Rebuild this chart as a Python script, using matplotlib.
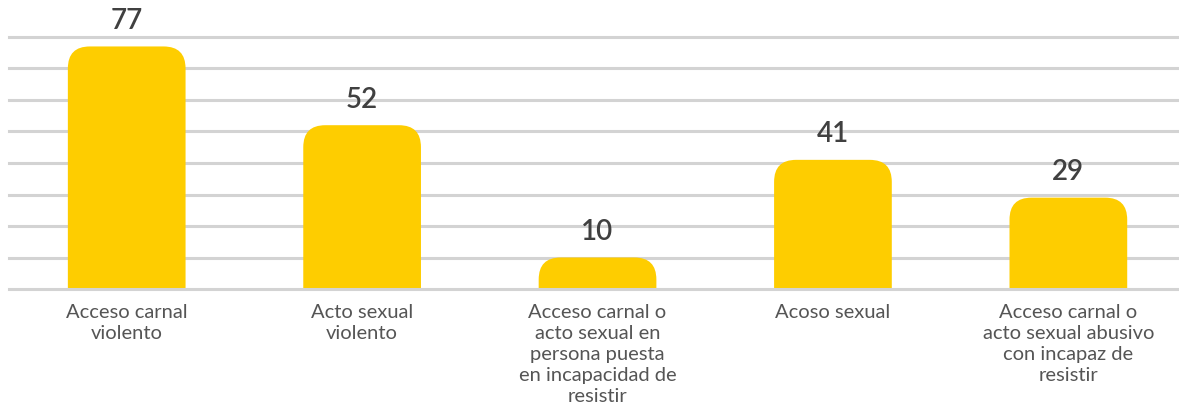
import matplotlib.pyplot as plt
from matplotlib.patches import FancyBboxPatch

categories = [
    "Acceso carnal\nviolento",
    "Acto sexual\nviolento",
    "Acceso carnal o\nacto sexual en\npersona puesta\nen incapacidad de\nresistir",
    "Acoso sexual",
    "Acceso carnal o\nacto sexual abusivo\ncon incapaz de\nresistir",
]
values = [77, 52, 10, 41, 29]
y_ticks = [0, 10, 20, 30, 40, 50, 60, 70, 80]

BAR_COLOR = "#FECD00"
GRID_COLOR = "#D3D3D3"

plt.rcParams["font.family"] = ["Lato", "DejaVu Sans"]

fig = plt.figure(figsize=(11.79, 4.04), dpi=100)
ax = fig.add_axes([9 / 1179, 1 - 289 / 404, 1 - 9 / 1179, (289 - 37) / 404])

x = list(range(len(values)))
bars = ax.bar(x, values, width=0.5, color=BAR_COLOR, zorder=3)

ax.set_xlim(-0.5, 4.47)
ax.set_ylim(0, 80)

# rounded tops: radius ~22px -> data units on each axis;
# box starts below 0 so bottom corners are clipped away
rx = 22 / 235.5
ry = 22 / 3.15
for bar in bars:
    bx, bw, bh = bar.get_x(), bar.get_width(), bar.get_height()
    bar.set_visible(False)
    ax.add_patch(FancyBboxPatch((bx, -ry), bw, bh + ry,
                                boxstyle=f"round,pad=0,rounding_size={rx}",
                                mutation_aspect=ry / rx,
                                facecolor=BAR_COLOR, edgecolor="none", zorder=3))
    ax.annotate(str(int(bh)), (bx + bw / 2, bh), xytext=(0, 9),
                textcoords="offset points", ha="center", va="bottom",
                fontsize=20, fontweight="semibold", color="#404040",
                annotation_clip=False)

for t in y_ticks:
    ax.axhline(t, color=GRID_COLOR, linewidth=2.2, clip_on=False,
               zorder=4 if t == 0 else 1)

ax.set_xticks(x, categories)
ax.tick_params(axis="x", length=0, pad=11, labelsize=14.5, labelcolor="#555555")
for lbl in ax.get_xticklabels():
    lbl.set_linespacing(1.28)
ax.set_yticks([])
for s in ax.spines.values():
    s.set_visible(False)

fig.savefig("out.png", dpi=100)
